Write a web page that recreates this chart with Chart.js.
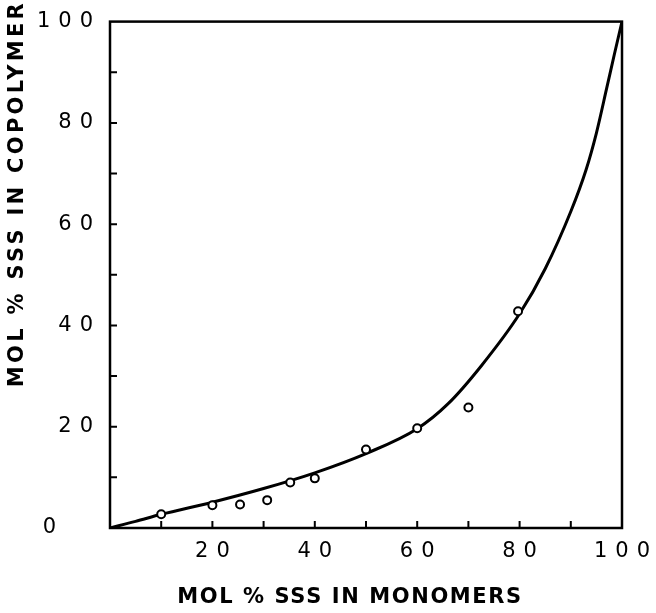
<!DOCTYPE html>
<html>
<head>
<meta charset="utf-8">
<script src="https://cdn.jsdelivr.net/npm/chart.js@4"></script>
<style>
  html, body { margin: 0; padding: 0; background: #ffffff; }
  #wrap { width: 656px; height: 613px; }
</style>
</head>
<body>
<div id="wrap"><canvas id="c" width="656" height="613"></canvas></div>
<script>
// Measured copolymer composition points
const monomerPct = [10, 20, 25.4, 30.7, 35.2, 40, 50, 60, 70, 79.7];
const copolymerPct = [2.7, 4.5, 4.65, 5.5, 9.0, 9.8, 15.5, 19.7, 23.8, 42.8];

// Drawn curve
const curveX = [0, 5, 10, 20, 30, 40, 50, 60, 66, 72.5, 80, 85, 90, 93, 95, 97, 98.5, 100];
const curveY = [0, 1.3, 2.7, 5.1, 7.8, 10.9, 14.7, 19.6, 24.5, 32, 42.3, 51.2, 62.5, 70.8, 78, 86.8, 93.5, 100];

// Axis labels
const xTickLabels = [20, 40, 60, 80, 100];
const yTickLabels = [0, 20, 40, 60, 80, 100];
const minorTicks = [10, 20, 30, 40, 50, 60, 70, 80, 90];
const xTitle = 'MOL % SSS IN MONOMERS';
const yTitle = 'MOL % SSS IN COPOLYMER';

const ink = '#000000';

const spacingPlugin = {
  id: 'spacing',
  beforeInit(chart) {
    const ctx = chart.ctx;
    const orig = ctx.fillText;
    ctx.fillText = function (t, x, y, w) {
      const s = String(t);
      let sp = '3.3px';
      if (/^\d/.test(s)) sp = '8px';
      else if (s === xTitle) sp = '1.6px';
      this.letterSpacing = sp;
      const r = orig.call(this, t, x, y, w);
      this.letterSpacing = '0px';
      return r;
    };
  },
  beforeDraw(chart) {
    // titles sit slightly off-centre in the figure
    const { x, y } = chart.scales;
    chart.$saved = { xr: x.right, yt: y.top };
    y.top = 0;
    x.right = x.right - 32;
  },
  beforeDatasetsDraw(chart) {
    const { x, y } = chart.scales;
    if (chart.$saved) {
      x.right = chart.$saved.xr;
      y.top = chart.$saved.yt;
    }
  }
};

const framePlugin = {
  id: 'frame',
  afterDatasetsDraw(chart) {
    const { ctx, chartArea: a, scales: { x, y } } = chart;
    ctx.save();
    ctx.strokeStyle = ink;
    ctx.lineWidth = 2.5;
    ctx.strokeRect(a.left, a.top, a.right - a.left, a.bottom - a.top);
    ctx.lineWidth = 2;
    ctx.beginPath();
    minorTicks.forEach(v => {
      const px = x.getPixelForValue(v);
      ctx.moveTo(px, a.bottom);
      ctx.lineTo(px, a.bottom - 7);
      const py = y.getPixelForValue(v);
      ctx.moveTo(a.left, py);
      ctx.lineTo(a.left + 7, py);
    });
    ctx.stroke();
    ctx.restore();
  }
};

new Chart(document.getElementById('c'), {
  type: 'line',
  data: {
    datasets: [
      {
        label: 'curve',
        data: curveX.map((v, i) => ({ x: v, y: curveY[i] })),
        borderColor: ink,
        borderWidth: 3,
        pointRadius: 0,
        cubicInterpolationMode: 'monotone',
        fill: false,
        order: 2
      },
      {
        label: 'data',
        data: monomerPct.map((v, i) => ({ x: v, y: copolymerPct[i] })),
        showLine: false,
        pointRadius: 4,
        pointBorderWidth: 2,
        pointBorderColor: ink,
        pointBackgroundColor: '#ffffff',
        order: 1
      }
    ]
  },
  options: {
    responsive: false,
    animation: false,
    layout: { padding: { left: 0, top: 19, right: 34, bottom: 0 } },
    plugins: { legend: { display: false }, tooltip: { enabled: false } },
    scales: {
      x: {
        type: 'linear',
        min: 0, max: 100,
        afterFit(s) { s.height = 85; },
        border: { display: false },
        grid: { display: false, drawTicks: false },
        ticks: {
          stepSize: 10,
          autoSkip: false,
          maxRotation: 0,
          padding: 11,
          labelOffset: 4,
          color: ink,
          font: { family: 'DejaVu Sans', size: 21 },
          callback: v => xTickLabels.includes(v) ? String(v) : ''
        },
        title: {
          display: true,
          text: xTitle,
          color: ink,
          font: { family: 'DejaVu Sans', size: 21, weight: 'bold' },
          padding: { top: 0, bottom: 3 }
        }
      },
      y: {
        type: 'linear',
        min: 0, max: 100,
        afterFit(s) { s.width = 110; },
        border: { display: false },
        grid: { display: false, drawTicks: false },
        ticks: {
          stepSize: 10,
          autoSkip: false,
          padding: 9,
          color: ink,
          font: { family: 'DejaVu Sans', size: 21 },
          callback: v => yTickLabels.includes(v) ? (v === 0 ? '0\u2002\u2002' : String(v)) : ''
        },
        title: {
          display: true,
          text: yTitle,
          align: 'end',
          color: ink,
          font: { family: 'DejaVu Sans', size: 21, weight: 'bold' },
          padding: { top: 5, bottom: 0 }
        }
      }
    }
  },
  plugins: [spacingPlugin, framePlugin]
});
</script>
</body>
</html>
